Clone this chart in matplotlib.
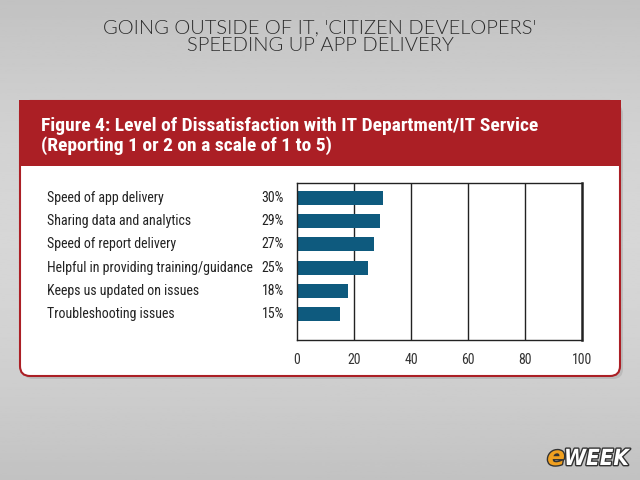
import matplotlib
matplotlib.use("Agg")
import matplotlib.pyplot as plt
import matplotlib.transforms as mtransforms
import matplotlib.patheffects as pe
from matplotlib.patches import FancyBboxPatch, Rectangle
import numpy as np

categories = ["Speed of app delivery", "Sharing data and analytics", "Speed of report delivery",
              "Helpful in providing training/guidance", "Keeps us updated on issues",
              "Troubleshooting issues"]
values = [30, 29, 27, 25, 18, 15]
xticks = [0, 20, 40, 60, 80, 100]

page_title = "GOING OUTSIDE OF IT, 'CITIZEN DEVELOPERS'\nSPEEDING UP APP DELIVERY"
fig_title = "Figure 4: Level of Dissatisfaction with IT Department/IT Service\n(Reporting 1 or 2 on a scale of 1 to 5)"

NARROW = ["Roboto Condensed", "Liberation Sans Narrow", "DejaVu Sans"]
STRETCH = "condensed"
RED = "#ab1f25"
BLUE = "#0e5a7e"

fig = plt.figure(figsize=(6.4, 4.8), dpi=100)
fig.patch.set_facecolor("#c8c8c8")

bg = fig.add_axes([0, 0, 1, 1])
bg.set_xlim(0, 640)
bg.set_ylim(480, 0)
bg.axis("off")

grad = np.linspace(0, 1, 256).reshape(-1, 1)
bg.imshow(0.76 + 0.08 * np.sin(grad * np.pi), cmap="gray", vmin=0, vmax=1,
          extent=[0, 640, 480, 0], aspect="auto", zorder=0)

bg.text(320, 37, page_title, ha="center", va="center", fontsize=14.5,
        family=["Lato", "DejaVu Sans"], fontweight=300, color="#2b2b2b",
        linespacing=1.0, zorder=3)

shadow = FancyBboxPatch((23, 104), 600, 275, boxstyle="round,pad=0,rounding_size=10",
                        facecolor="#a8a8a8", edgecolor="none", alpha=0.5, zorder=1)
bg.add_patch(shadow)
panel = FancyBboxPatch((20, 101), 600, 275, boxstyle="round,pad=0,rounding_size=10",
                       facecolor="white", edgecolor=RED, linewidth=1.5, zorder=2)
bg.add_patch(panel)
bg.add_patch(Rectangle((19.3, 100.3), 601.4, 65.7, facecolor=RED, edgecolor="none", zorder=3))
bg.text(41, 136, fig_title, ha="left", va="center", fontsize=14, fontweight="bold",
        family=NARROW, fontstretch=STRETCH, color="white", linespacing=1.1, zorder=4)

ax = fig.add_axes([297 / 640, 1 - 340 / 480, (582 - 297) / 640, (340 - 183) / 480])
ax.set_zorder(5)
ax.patch.set_alpha(0)
y = np.arange(len(categories))
ax.barh(y, values, height=0.6, color=BLUE, zorder=2)
ax.set_xlim(0, 100)
ax.set_ylim(6.12, -0.65)
ax.set_yticks([])
ax.set_xticks(xticks)
ax.set_xticklabels([str(t) for t in xticks], family=NARROW, fontstretch=STRETCH,
                   fontsize=10, color="#333333")
ax.tick_params(axis="x", length=0, pad=9)
for t in xticks[1:-1]:
    ax.axvline(t, color="#222222", linewidth=1.0, zorder=1)
for s in ax.spines.values():
    s.set_color("#222222")
    s.set_linewidth(1.0)
ax.spines["right"].set_linewidth(1.8)

trans = mtransforms.blended_transform_factory(bg.transData, ax.transData)
for i, (c, v) in enumerate(zip(categories, values)):
    ax.text(47, i, c, transform=trans, ha="left", va="center", fontsize=10,
            family=NARROW, fontstretch=STRETCH, color="#222222", clip_on=False)
    ax.text(284, i, f"{v}%", transform=trans, ha="right", va="center", fontsize=10,
            family=NARROW, fontstretch=STRETCH, color="#222222", clip_on=False)

# logo
stroke = [pe.withStroke(linewidth=2, foreground="#333333")]
bg.text(565, 458, "e", ha="right", va="center", fontsize=19, fontweight="bold",
        fontstyle="italic", color="#f0a020", family=["DejaVu Sans"], zorder=6,
        path_effects=stroke)
bg.text(564, 459, "WEEK", ha="left", va="center", fontsize=16, fontweight="bold",
        fontstyle="italic", color="white", family=["DejaVu Sans"], fontstretch="condensed",
        zorder=6, path_effects=stroke)

fig.savefig("out.png", dpi=100)
